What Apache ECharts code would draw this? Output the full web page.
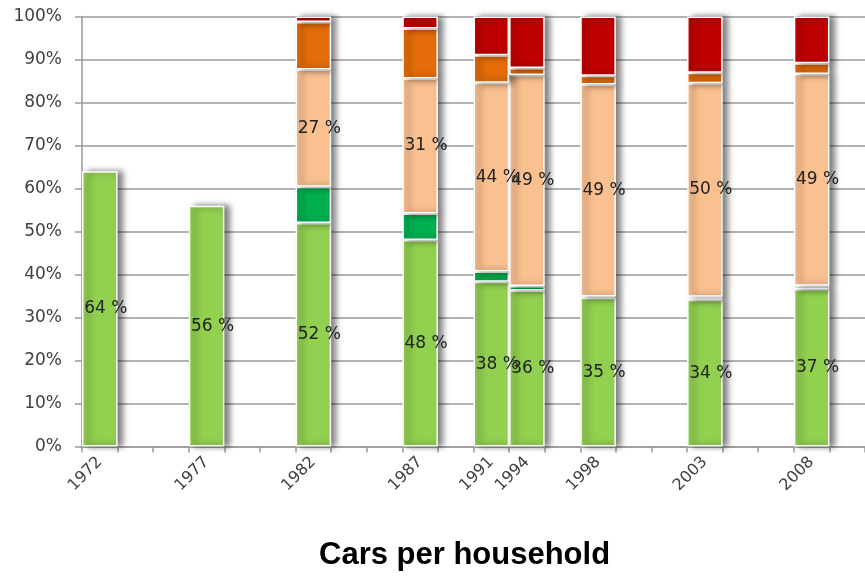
<!DOCTYPE html>
<html>
<head>
<meta charset="utf-8">
<script src="https://cdn.jsdelivr.net/npm/echarts@6/dist/echarts.min.js"></script>
<style>
  html, body { margin: 0; padding: 0; background: #fff; }
  #chart { width: 865px; height: 577px; }
</style>
</head>
<body>
<div id="chart"></div>
<script>
// one slot per axis step, blank slots keep the uneven spacing of the original
const years = ['1972', '', '', '1977', '', '', '1982', '', '', '1987', '', '1991', '1994', '', '1998', '', '', '2003', '', '', '2008', '']
const yTicks = [0, 10, 20, 30, 40, 50, 60, 70, 80, 90, 100]

// stacked shares (%), bottom to top
const lightGreen = [64, null, null, 56, null, null, 52, null, null, 48, null, 38.3, 36.3, null, 34.6, null, null, 34.1, null, null, 36.6, null]
const darkGreen = [null, null, null, null, null, null, 8.4, null, null, 6.2, null, 2.4, 1.0, null, 0.3, null, null, 0.7, null, null, 0.8, null]
const lightOrange = [null, null, null, null, null, null, 27.3, null, null, 31.4, null, 43.9, 49.1, null, 49.3, null, null, 49.7, null, null, 49.2, null]
const orange = [null, null, null, null, null, null, 11.0, null, null, 11.6, null, 6.4, 1.6, null, 2.0, null, null, 2.4, null, null, 2.5, null]
const red = [null, null, null, null, null, null, 1.3, null, null, 2.8, null, 9.0, 12.0, null, 13.8, null, null, 13.1, null, null, 10.9, null]

const labelFont = 'DejaVu Sans'
const textColor = '#404040'
const gridGray = '#9a9a9a'

function stack(name, data, color, withLabel) {
  return {
    name: name,
    type: 'bar',
    stack: 'share',
    data: data,
    barCategoryGap: '0%',
    itemStyle: {
      color: color,
      borderColor: '#fff',
      borderWidth: 1.5,
      shadowColor: 'rgba(0,0,0,0.5)',
      shadowBlur: 6,
      shadowOffsetX: 5
    },
    label: {
      show: withLabel,
      position: 'inside',
      offset: [6, 0],
      fontFamily: labelFont,
      fontSize: 17,
      color: '#222',
      formatter: p => Math.round(p.value) + ' %'
    }
  }
}

const chart = echarts.init(document.getElementById('chart'))
chart.setOption({
  animation: false,
  title: {
    text: 'Cars per household',
    left: 314,
    top: 535,
    textStyle: {
      fontFamily: 'Liberation Sans',
      fontWeight: 'bold',
      fontSize: 31,
      color: '#000'
    }
  },
  grid: {
    left: 82,
    right: -11,
    top: 16.5,
    bottom: 130.5
  },
  xAxis: {
    type: 'category',
    data: years,
    boundaryGap: true,
    axisLine: { lineStyle: { color: gridGray, width: 1.5 } },
    axisTick: { show: true, interval: 0, length: 6, lineStyle: { color: gridGray, width: 1.5 } },
    axisLabel: {
      interval: 0,
      rotate: 45,
      margin: 13,
      fontFamily: labelFont,
      fontSize: 16,
      color: textColor
    }
  },
  yAxis: {
    type: 'value',
    min: yTicks[0],
    max: yTicks[yTicks.length - 1],
    interval: 10,
    axisLine: { show: true, lineStyle: { color: gridGray, width: 1.5 } },
    axisTick: { show: true, length: 7, lineStyle: { color: gridGray, width: 1.5 } },
    splitLine: { lineStyle: { color: gridGray, width: 1.5 } },
    axisLabel: {
      formatter: '{value}%',
      margin: 20,
      fontFamily: labelFont,
      fontSize: 17,
      color: textColor
    }
  },
  series: [
    stack('light green', lightGreen, '#92D050', true),
    stack('dark green', darkGreen, '#00B050', false),
    stack('light orange', lightOrange, '#FAC090', true),
    stack('orange', orange, '#E46C0A', false),
    stack('red', red, '#C00000', false)
  ]
})
</script>
</body>
</html>
